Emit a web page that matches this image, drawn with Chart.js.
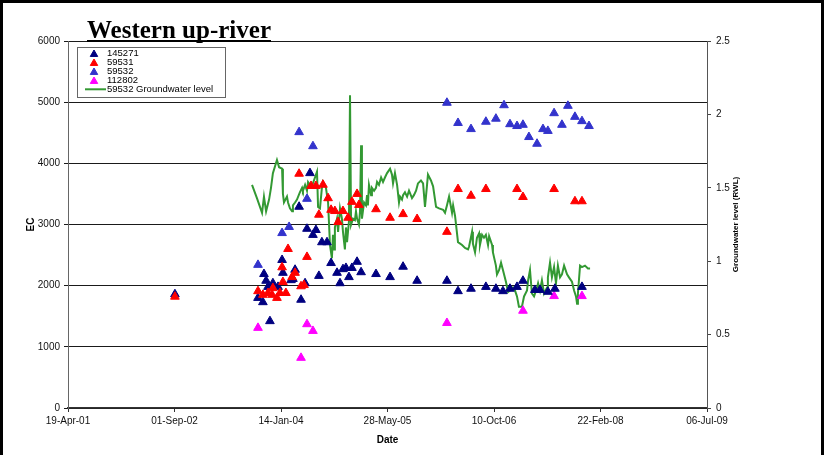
<!DOCTYPE html>
<html>
<head>
<meta charset="utf-8">
<title>Western up-river</title>
<script src="https://cdn.jsdelivr.net/npm/chart.js@4.4.0/dist/chart.umd.min.js"></script>
<style>
  html, body { margin: 0; padding: 0; background: #fff; }
  #wrap { width: 824px; height: 455px; position: relative; }
</style>
</head>
<body>
<div id="wrap"><canvas id="c" width="824" height="455"></canvas></div>
<script>
// Dates are spreadsheet day numbers (days since 30-Dec-1899).
const chartTitle = 'Western up-river';
const xTitle = 'Date';
const yTitle = 'EC';
const y2Title = 'Groundwater level (RWL)';

// Axis tick positions (day numbers) – labelled as dd-Mon-yy
const xTicks = [37000, 37500, 38000, 38500, 39000, 39500, 40000];

// Bore 145271 – EC
const days145271 = [37502, 37892, 37915, 37920, 37930, 37939, 37948, 37962, 37986, 38005, 38009, 38047,
  38056, 38066, 38085, 38094, 38113, 38122, 38136, 38150, 38164, 38178, 38192, 38216, 38235, 38263,
  38277, 38291, 38305, 38319, 38333, 38357, 38376, 38446, 38512, 38573, 38639, 38779, 38831, 38892,
  38962, 39009, 39042, 39075, 39108, 39136, 39192, 39216, 39253, 39286, 39413];
const ec145271 = [1860, 1800, 1730, 2190, 2080, 1980, 1420, 2040, 1980, 2420, 2210, 2090,
  2110, 2260, 3290, 1770, 2040, 2930, 3840, 2830, 2910, 2160, 2710, 2710, 2370, 2210,
  2040, 2270, 2290, 2140, 2290, 2390, 2220, 2190, 2140, 2310, 2080, 2080, 1910, 1950,
  1980, 1950, 1910, 1950, 1980, 2080, 1930, 1930, 1900, 1950, 1980];

// Bore 59531 – EC
const days59531 = [37502, 37892, 37915, 37939, 37958, 37962, 37981, 37995, 38005, 38009, 38023, 38033,
  38052, 38066, 38085, 38094, 38108, 38122, 38141, 38164, 38178, 38197, 38221, 38235, 38253, 38268,
  38291, 38315, 38333, 38357, 38366, 38446, 38512, 38573, 38639, 38779, 38831, 38892, 38962, 39108,
  39136, 39282, 39380, 39413];
const ec59531 = [1820, 1910, 1850, 1880, 1850, 1960, 1800, 1880, 2300, 2060, 1880, 2600,
  2140, 2210, 3830, 1990, 2010, 2470, 3630, 3630, 3160, 3650, 3430, 3240, 3220, 3040,
  3220, 3110, 3370, 3500, 3320, 3250, 3110, 3170, 3090, 2880, 3580, 3470, 3580, 3580,
  3450, 3580, 3380, 3380];

// Bore 59532 – EC
const days59532 = [37892, 38005, 38038, 38085, 38122, 38150, 38779, 38831, 38892, 38962, 39009, 39047,
  39075, 39108, 39136, 39164, 39202, 39230, 39253, 39282, 39319, 39347, 39380, 39413, 39446];
const ec59532 = [2340, 2860, 2960, 4510, 3420, 4280, 4990, 4660, 4560, 4680, 4730, 4950,
  4640, 4610, 4630, 4430, 4320, 4560, 4530, 4820, 4630, 4940, 4760, 4690, 4610];

// Bore 112802 – EC
const days112802 = [37892, 38094, 38122, 38150, 38779, 39136, 39282, 39413];
const ec112802 = [1310, 820, 1370, 1260, 1390, 1590, 1830, 1830];

// Bore 59532 – groundwater level (RWL)
const daysGw = [37864, 37887, 37911, 37920, 37930, 37944, 37953, 37962, 37981, 37991, 38005, 38009,
  38014, 38028, 38033, 38042, 38052, 38056, 38066, 38075, 38089, 38099, 38103, 38113, 38122, 38127,
  38141, 38150, 38169, 38174, 38183, 38192, 38197, 38211, 38221, 38230, 38239, 38244, 38249, 38253,
  38263, 38268, 38277, 38286, 38291, 38300, 38305, 38310, 38319, 38324, 38329, 38338, 38347, 38352,
  38357, 38366, 38371, 38376, 38380, 38390, 38399, 38404, 38408, 38413, 38423, 38427, 38437, 38446,
  38451, 38460, 38470, 38479, 38488, 38498, 38512, 38521, 38526, 38535, 38545, 38554, 38559, 38568,
  38573, 38582, 38592, 38601, 38615, 38624, 38634, 38643, 38657, 38667, 38676, 38685, 38690, 38704,
  38714, 38728, 38742, 38761, 38770, 38779, 38789, 38803, 38808, 38817, 38831, 38850, 38864, 38878,
  38883, 38897, 38901, 38911, 38920, 38930, 38934, 38944, 38953, 38962, 38972, 38977, 38991, 38995,
  39009, 39014, 39024, 39033, 39042, 39056, 39066, 39075, 39085, 39094, 39108, 39117, 39131, 39141,
  39155, 39160, 39169, 39178, 39188, 39202, 39207, 39216, 39225, 39235, 39249, 39253, 39263, 39272,
  39282, 39291, 39300, 39310, 39319, 39329, 39343, 39352, 39366, 39376, 39385, 39390, 39394, 39404,
  39413, 39427, 39441, 39451];
const rwlGw = [1.52, 1.43, 1.33, 1.44, 1.34, 1.42, 1.50, 1.60, 1.69, 1.64, 1.63, 1.46,
  1.40, 1.44, 1.40, 1.36, 1.34, 1.38, 1.40, 1.42, 1.47, 1.50, 1.48, 1.52, 1.48, 1.54,
  1.51, 1.53, 1.61, 1.37, 1.36, 1.50, 1.54, 1.50, 1.40, 1.11, 1.02, 1.18, 1.08, 1.23,
  1.29, 1.20, 1.36, 1.29, 1.20, 1.08, 1.23, 1.13, 1.27, 2.13, 1.25, 1.29, 1.28, 1.34,
  1.29, 1.25, 1.34, 1.79, 1.29, 1.40, 1.38, 1.45, 1.38, 1.52, 1.45, 1.50, 1.48, 1.50,
  1.54, 1.52, 1.57, 1.54, 1.57, 1.60, 1.63, 1.59, 1.53, 1.60, 1.52, 1.40, 1.44, 1.42,
  1.45, 1.47, 1.44, 1.48, 1.43, 1.45, 1.48, 1.53, 1.55, 1.53, 1.37, 1.51, 1.59, 1.55,
  1.51, 1.37, 1.36, 1.35, 1.33, 1.38, 1.44, 1.33, 1.38, 1.31, 1.13, 1.11, 1.09, 1.08,
  1.10, 1.20, 1.12, 1.06, 1.16, 1.19, 1.11, 1.18, 1.16, 1.18, 1.11, 1.17, 1.11, 1.06,
  0.97, 0.91, 0.94, 0.99, 0.94, 0.86, 0.79, 0.80, 0.82, 0.82, 0.76, 0.69, 0.69, 0.76,
  0.80, 0.87, 0.94, 0.78, 0.76, 0.82, 0.85, 0.80, 0.87, 0.78, 0.82, 0.89, 0.99, 0.89,
  0.96, 0.85, 0.97, 0.89, 0.91, 0.97, 0.91, 0.89, 0.86, 0.80, 0.76, 0.71, 0.78, 0.97,
  0.96, 0.97, 0.95, 0.95];

const SANS = '"Liberation Sans", Arial, Helvetica, sans-serif';
const SERIF = '"Liberation Serif", "Times New Roman", serif';
const MONTHS = ['Jan','Feb','Mar','Apr','May','Jun','Jul','Aug','Sep','Oct','Nov','Dec'];

function dayToLabel(n) {
  const d = new Date(Date.UTC(1899, 11, 30) + Math.round(n) * 86400000);
  const dd = String(d.getUTCDate()).padStart(2, '0');
  const yy = String(d.getUTCFullYear() % 100).padStart(2, '0');
  return dd + '-' + MONTHS[d.getUTCMonth()] + '-' + yy;
}

function pairs(xs, ys) {
  return xs.map((x, i) => ({ x: x, y: ys[i] }));
}

function markerSet(label, xs, ys, color, order) {
  return {
    label: label,
    data: pairs(xs, ys),
    yAxisID: 'y',
    showLine: false,
    pointStyle: 'triangle',
    pointRadius: 5,
    pointHoverRadius: 5,
    pointBackgroundColor: color,
    pointBorderColor: color,
    pointBorderWidth: 1,
    backgroundColor: color,
    borderColor: color,
    order: order
  };
}

const datasets = [
  markerSet('145271', days145271, ec145271, '#000080', 1),
  markerSet('59531', days59531, ec59531, '#ff0000', 0),
  markerSet('59532', days59532, ec59532, '#3333cc', 2),
  markerSet('112802', days112802, ec112802, '#ff00ff', 3),
  {
    label: '59532 Groundwater level',
    data: pairs(daysGw, rwlGw),
    yAxisID: 'y2',
    showLine: true,
    borderColor: '#339933',
    backgroundColor: '#339933',
    borderWidth: 2,
    pointRadius: 0,
    pointHoverRadius: 0,
    tension: 0,
    order: 10
  }
];

// Frame, title, in-plot legend and axis titles
const decor = {
  id: 'decor',
  afterDraw(chart) {
    const ctx = chart.ctx;
    const a = chart.chartArea;
    const W = chart.width, H = chart.height;
    ctx.save();

    // outer frame
    ctx.fillStyle = '#000';
    ctx.fillRect(0, 0, 3, H);
    ctx.fillRect(0, 0, W, 3);
    ctx.fillRect(W - 3, 0, 3, H);

    // title, underlined
    ctx.font = 'bold 25px ' + SERIF;
    ctx.textAlign = 'left';
    ctx.textBaseline = 'alphabetic';
    ctx.fillStyle = '#000';
    ctx.fillText(chartTitle, 87, 38);
    const tw = ctx.measureText(chartTitle).width;
    ctx.fillRect(87, 40, tw, 2);

    // legend box
    const lx = 77, ly = 47, lw = 148, lh = 50;
    ctx.fillStyle = '#fff';
    ctx.fillRect(lx, ly, lw, lh);
    ctx.strokeStyle = '#666';
    ctx.lineWidth = 1;
    ctx.strokeRect(lx + 0.5, ly + 0.5, lw, lh);
    ctx.font = '9.5px ' + SANS;
    ctx.textBaseline = 'middle';
    chart.data.datasets.forEach((ds, i) => {
      const y = 53.3 + i * 9;
      if (ds.showLine) {
        ctx.strokeStyle = ds.borderColor;
        ctx.lineWidth = 2;
        ctx.beginPath();
        ctx.moveTo(85, y);
        ctx.lineTo(106, y);
        ctx.stroke();
      } else {
        ctx.fillStyle = ds.pointBackgroundColor;
        ctx.strokeStyle = ds.pointBorderColor;
        ctx.lineWidth = 1;
        Chart.helpers.drawPoint(ctx, { pointStyle: 'triangle', radius: 4.3, rotation: 0, borderWidth: 1 }, 94, y + 1);
      }
      ctx.fillStyle = '#000';
      ctx.fillText(ds.label, 107, y);
    });

    // axis titles
    ctx.fillStyle = '#000';
    ctx.textAlign = 'center';
    ctx.textBaseline = 'middle';
    ctx.font = 'bold 10px ' + SANS;
    ctx.fillText(xTitle, (a.left + a.right) / 2, 440);

    ctx.save();
    ctx.translate(31, (a.top + a.bottom) / 2);
    ctx.rotate(-Math.PI / 2);
    ctx.fillText(yTitle, 0, 0);
    ctx.restore();

    ctx.save();
    ctx.font = 'bold 8px ' + SANS;
    ctx.translate(736, (a.top + a.bottom) / 2);
    ctx.rotate(-Math.PI / 2);
    ctx.fillText(y2Title, 0, 0);
    ctx.restore();

    ctx.restore();
  }
};

const tickFont = { family: SANS, size: 10 };

new Chart(document.getElementById('c'), {
  type: 'scatter',
  data: { datasets: datasets },
  plugins: [decor],
  options: {
    responsive: false,
    animation: false,
    devicePixelRatio: 1,
    events: [],
    layout: { padding: { top: 41, left: 0, right: 0, bottom: 0 } },
    plugins: {
      legend: { display: false },
      title: { display: false },
      tooltip: { enabled: false }
    },
    scales: {
      x: {
        type: 'linear',
        position: 'bottom',
        min: xTicks[0],
        max: xTicks[xTicks.length - 1],
        afterBuildTicks(scale) { scale.ticks = xTicks.map(v => ({ value: v })); },
        ticks: {
          callback: v => dayToLabel(v),
          font: tickFont,
          color: '#111',
          padding: 3,
          maxRotation: 0,
          autoSkip: false
        },
        grid: { drawOnChartArea: false, drawTicks: true, tickLength: 4, color: '#333' },
        border: { color: '#333', width: 1.5 },
        afterFit(scale) { scale.height = 47; }
      },
      y: {
        type: 'linear',
        position: 'left',
        min: 0,
        max: 6000,
        ticks: { stepSize: 1000, callback: v => String(v), font: tickFont, color: '#111', padding: 4 },
        grid: { color: '#1a1a1a', lineWidth: 1, tickLength: 4 },
        border: { color: '#666', width: 1 },
        afterFit(scale) { scale.width = 68; }
      },
      y2: {
        type: 'linear',
        position: 'right',
        min: 0,
        max: 2.5,
        ticks: { stepSize: 0.5, callback: v => String(v), font: tickFont, color: '#111', padding: 5 },
        grid: { drawOnChartArea: false, tickLength: 4, color: '#444' },
        border: { color: '#555', width: 1 },
        afterFit(scale) { scale.width = 117; }
      }
    }
  }
});
</script>
</body>
</html>
